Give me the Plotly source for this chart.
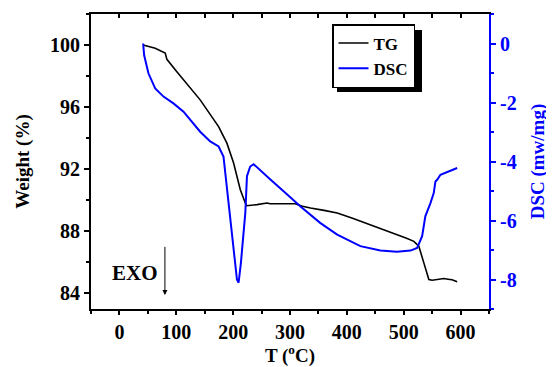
import plotly.graph_objects as go

# TG data (weight %)
tg_T = [41.7, 62.9, 80.5, 83.5, 101, 142, 174.4, 189, 200.8, 212.6, 221.4, 224, 242, 259.5, 265, 285, 309, 322, 336, 360, 383, 410, 441.5, 465, 488.5, 505, 517.8, 526.6, 535.4, 544.2, 550, 559, 570.6, 578, 585, 594]
tg_W = [100.0, 99.8, 99.49, 99.08, 98.28, 96.47, 94.75, 93.68, 92.4, 90.68, 89.83, 89.65, 89.72, 89.83, 89.78, 89.8, 89.78, 89.62, 89.5, 89.35, 89.18, 88.85, 88.43, 88.12, 87.79, 87.55, 87.36, 87.04, 85.97, 84.9, 84.85, 84.9, 84.96, 84.92, 84.88, 84.75]

# DSC data (mw/mg)
dsc_T = [41.7, 43.5, 51, 62.9, 77.5, 95, 112.7, 142, 159.7, 174.4, 183, 189, 200.8, 206.7, 209.6, 213.7, 221.4, 224.3, 230, 236, 265, 283, 300, 318, 340, 353, 383, 423.8, 459, 488, 512, 523.6, 532.4, 538, 547, 552.8, 555.8, 558.8, 564.6, 594]
dsc_V = [0.0, -0.4, -1.01, -1.52, -1.8, -2.03, -2.31, -2.99, -3.32, -3.49, -3.83, -4.84, -6.87, -8.0, -8.11, -7.43, -5.74, -4.5, -4.17, -4.09, -4.6, -4.9, -5.2, -5.52, -5.88, -6.08, -6.48, -6.87, -7.02, -7.06, -7.02, -6.93, -6.53, -5.86, -5.41, -5.07, -4.68, -4.62, -4.45, -4.22]

# tick labels
x_ticks = [0, 100, 200, 300, 400, 500, 600]
w_ticks = [84, 88, 92, 96, 100]
d_ticks = [-8, -6, -4, -2, 0]

FONT = "Liberation Serif"
BLUE = "#0000ff"

def b(v):
    return "<b>%s</b>" % v

fig = go.Figure()
fig.add_trace(go.Scatter(x=tg_T, y=tg_W, mode="lines", name=b("TG"),
                         line=dict(color="black", width=1.6), xaxis="x", yaxis="y"))
fig.add_trace(go.Scatter(x=dsc_T, y=dsc_V, mode="lines", name=b("DSC"),
                         line=dict(color=BLUE, width=2), xaxis="x", yaxis="y2"))
# dummy trace for top axis
fig.add_trace(go.Scatter(x=[0], y=[90], mode="lines", showlegend=False, hoverinfo="skip",
                         line=dict(width=0), opacity=0, xaxis="x2", yaxis="y"))

tickfont = dict(family=FONT, size=20, color="black", weight="bold")
titlefont = dict(family=FONT, size=19, color="black", weight="bold")

# page body has an 8px margin, so the figure is sized to fill the rest of the window
fig.update_layout(
    width=546, height=359,
    margin=dict(l=83, r=65, t=6, b=58),
    paper_bgcolor="white", plot_bgcolor="white",
    showlegend=True,
    legend=dict(x=(332 - 91) / 398, y=(309 - 24) / 295, xanchor="left", yanchor="top",
                bgcolor="white", bordercolor="black", borderwidth=1.5,
                font=dict(family=FONT, size=17, color="black", weight="bold"),
                itemwidth=30, tracegroupgap=0),
    xaxis=dict(range=[-50, 650], tickvals=x_ticks, ticktext=[b(v) for v in x_ticks],
               ticks="outside", ticklen=4, tickwidth=1.5, automargin=False,
               minor=dict(dtick=50, tick0=0, ticks="outside", ticklen=3, tickwidth=1.5, tickcolor="black"),
               showline=True, linecolor="black", linewidth=2, showgrid=False, zeroline=False,
               tickfont=tickfont, tickcolor="black",
               title=dict(text="<b>T (<sup>o</sup>C)</b>", font=titlefont)),
    xaxis2=dict(range=[-50, 650], overlaying="x", side="top", dtick=50, tick0=0,
                ticks="inside", ticklen=4, tickwidth=1.5, tickcolor="black", automargin=False,
                showline=True, linecolor="black", linewidth=2, showgrid=False, zeroline=False,
                showticklabels=False),
    yaxis=dict(range=[83, 102], tickvals=w_ticks, ticktext=[b(v) for v in w_ticks],
               ticks="outside", ticklen=5, tickwidth=1.5, automargin=False,
               minor=dict(dtick=2, tick0=0, ticks="outside", ticklen=3, tickwidth=1.5, tickcolor="black"),
               showline=True, linecolor="black", linewidth=2, showgrid=False, zeroline=False,
               tickfont=tickfont, tickcolor="black",
               title=dict(text="<b>Weight (%)</b>", font=titlefont)),
    yaxis2=dict(range=[-9, 1], overlaying="y", side="right", tickvals=d_ticks,
                ticktext=[b(v) for v in d_ticks], automargin=False,
                ticks="outside", ticklen=5, tickwidth=1.5, tickcolor=BLUE,
                minor=dict(dtick=1, tick0=0, ticks="outside", ticklen=3, tickwidth=1.5, tickcolor=BLUE),
                showline=True, linecolor=BLUE, linewidth=2, showgrid=False, zeroline=False,
                tickfont=dict(family=FONT, size=20, color=BLUE, weight="bold"),
                title=dict(text="<b>DSC (mw/mg)</b>",
                           font=dict(family=FONT, size=19, color=BLUE, weight="bold"))),
)

# legend shadow
fig.add_shape(type="rect", xref="paper", yref="paper",
              x0=(337 - 91) / 398, x1=(422 - 91) / 398,
              y0=(309 - 92) / 295, y1=(309 - 30) / 295,
              fillcolor="black", line=dict(width=0), layer="above")

# EXO annotation
fig.add_annotation(x=80, y=83.9, ax=80, ay=87.1, xref="x", yref="y", axref="x", ayref="y",
                   showarrow=True, arrowhead=2, arrowsize=1, arrowwidth=1, arrowcolor="black", text="")
fig.add_annotation(x=27, y=85.35, xref="x", yref="y", text=b("EXO"), showarrow=False,
                   font=dict(family=FONT, size=21, color="black", weight="bold"))

fig.write_html("out.html")
